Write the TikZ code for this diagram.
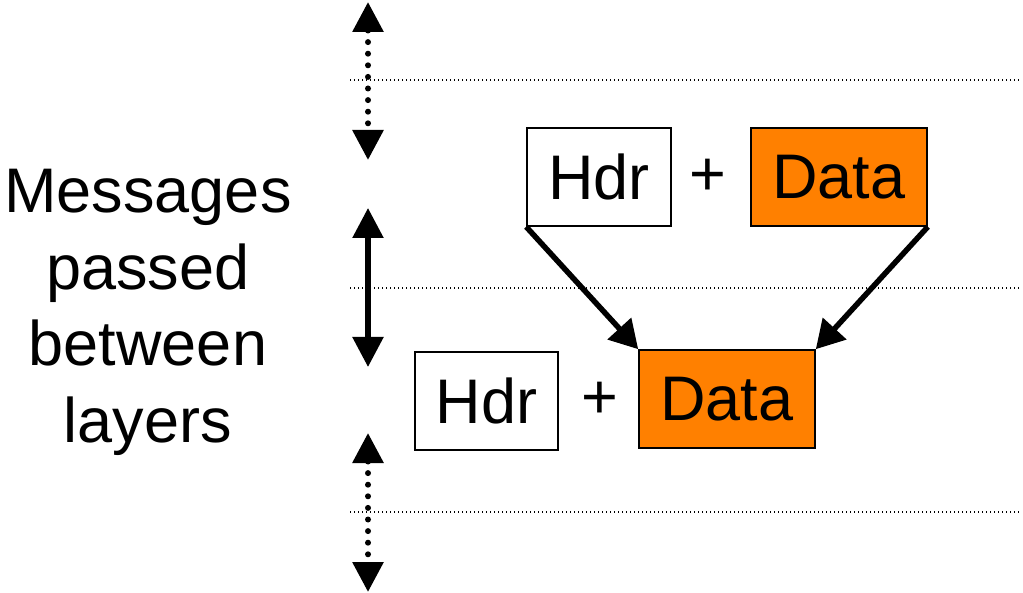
\documentclass[tikz,border=0pt]{standalone}
\usepackage{fontspec}
\setmainfont{Liberation Sans}
\usetikzlibrary{arrows.meta}
\definecolor{dataorange}{HTML}{FF8000}
\begin{document}
\begin{tikzpicture}[x=1pt,y=-1pt,
  box/.style={draw=black,line width=1.6pt,inner sep=0pt,minimum height=98pt,
    font=\fontsize{63}{63}\selectfont},
  hdrbox/.style={box,fill=white,minimum width=144pt},
  databox/.style={box,fill=dataorange,minimum width=176pt},
  plus/.style={font=\fontsize{63}{63}\selectfont,inner sep=0pt},
  layerline/.style={line width=1.4pt,dash pattern=on 1.4pt off 2.6pt,black},
  vtips/.style={{Triangle[length=30pt,width=30pt]}-{Triangle[length=30pt,width=30pt]}},
  vdots/.style={vtips,line width=6pt,line cap=round,dash pattern=on 0pt off 11.6pt},
  vsolid/.style={vtips,line width=5.5pt},
  flow/.style={-{Triangle[length=28pt,width=31pt]},line width=5.5pt}]
\useasboundingbox (0,0) rectangle (1023,593);

% layer boundaries
\coordinate (l1a) at (350,80);  \coordinate (l1b) at (1020,80);
\coordinate (l2a) at (350,288); \coordinate (l2b) at (1020,288);
\coordinate (l3a) at (350,512); \coordinate (l3b) at (1020,512);
\draw[layerline] (l1a) -- (l1b);
\draw[layerline] (l2a) -- (l2b);
\draw[layerline] (l3a) -- (l3b);

% vertical arrows between layers
\coordinate (v1t) at (368,2);   \coordinate (v1b) at (368,160);
\coordinate (v2t) at (368,208); \coordinate (v2b) at (368,367);
\coordinate (v3t) at (368,433); \coordinate (v3b) at (368,592);
\draw[vdots] (v1t) -- (v1b);
\draw[vsolid] (v2t) -- (v2b);
\draw[vdots] (v3t) -- (v3b);

% caption
\node[align=center,font=\fontsize{63}{76.5}\selectfont,inner sep=0pt,anchor=north]
  (caption) at (148,169) {Messages\\passed\\between\\layers};

% upper message
\node[hdrbox] (uhdr) at (599,177) {Hdr};
\node[plus] (uplus) at (708,177) {+};
\node[databox] (udata) at (839,177) {Data};

% lower message
\node[hdrbox,minimum width=143pt] (lhdr) at (486.5,401) {Hdr};
\node[plus] (lplus) at (600,400) {+};
\node[databox] (ldata) at (727,399) {Data};

% encapsulation arrows
\draw[flow] (uhdr.south west) -- (ldata.north west);
\draw[flow] (udata.south east) -- (ldata.north east);
\end{tikzpicture}
\end{document}
